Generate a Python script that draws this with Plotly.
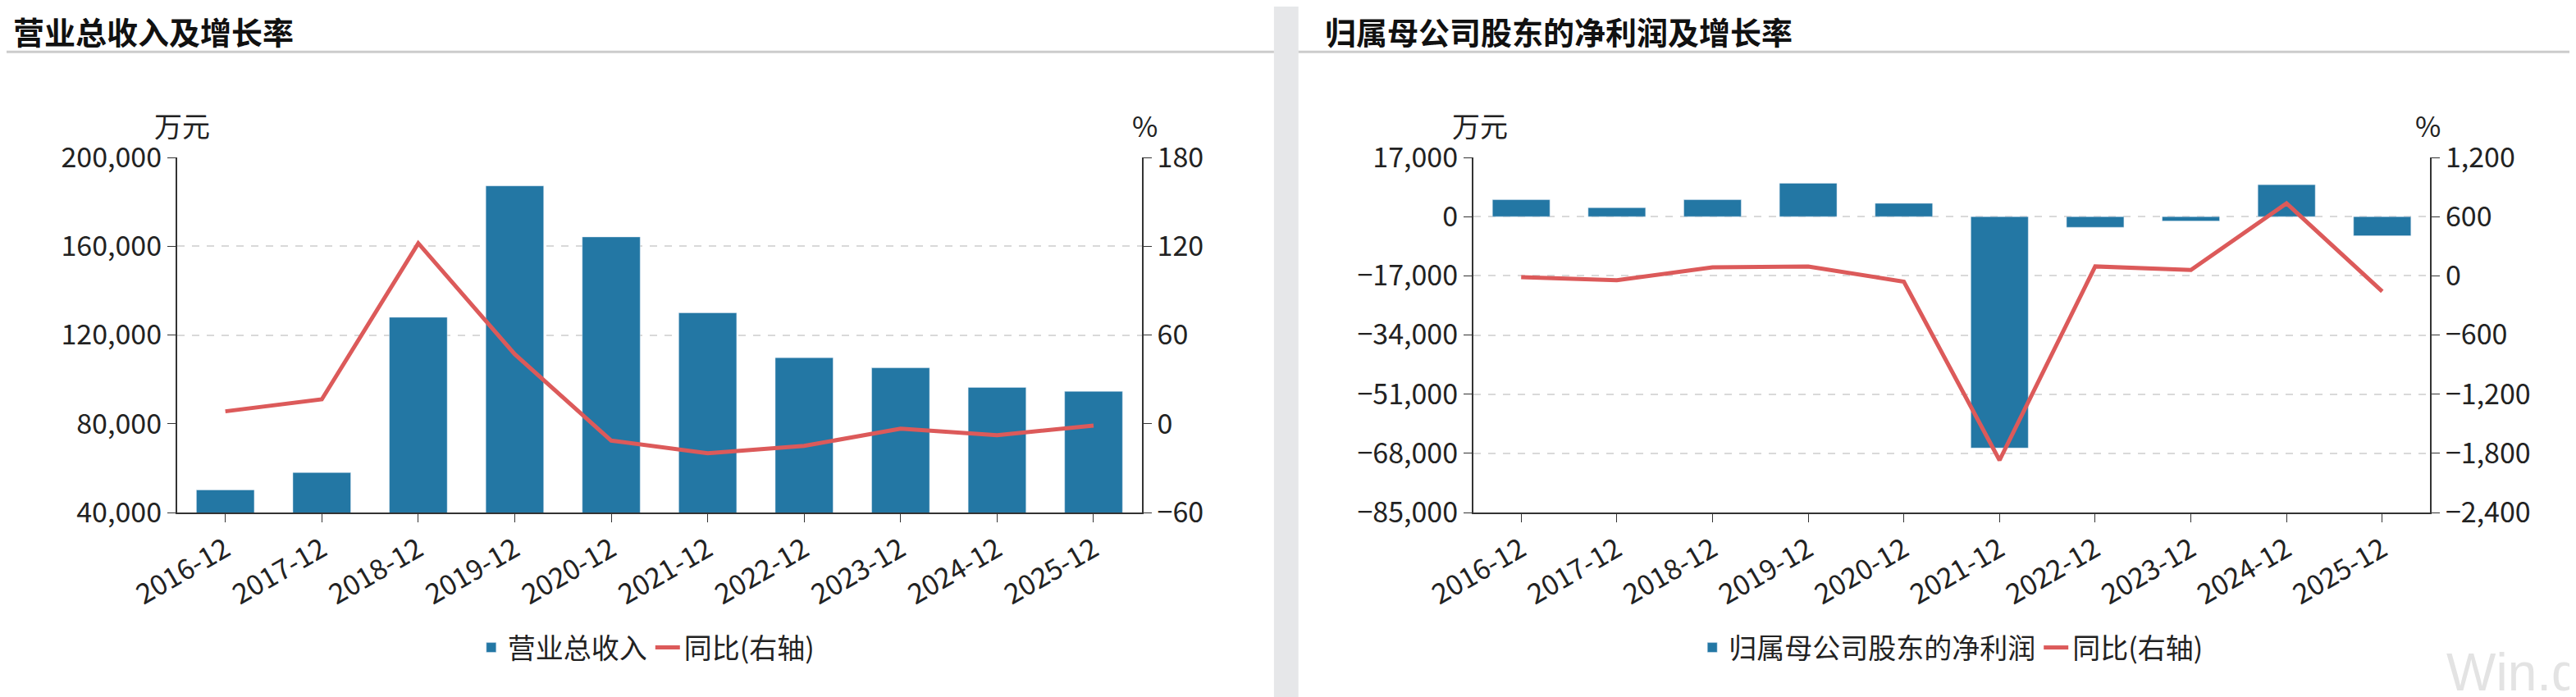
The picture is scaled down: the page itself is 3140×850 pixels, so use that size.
import plotly.graph_objects as go

years = ["2016-12","2017-12","2018-12","2019-12","2020-12","2021-12","2022-12","2023-12","2024-12","2025-12"]
revenue = [50200, 58000, 128000, 187200, 164200, 130000, 109800, 105200, 96400, 94600]
revenue_yoy = [8.4, 16.5, 122, 47, -11.4, -20, -15, -3.3, -7.8, -1.2]
profit = [4860, 2560, 4860, 9590, 3830, -66470, -3070, -1280, 9200, -5500]
profit_yoy = [-14, -45, 86, 95, -59, -1870, 95, 59, 735, -158]

BAR = "#2377a4"
LINE = "#dc5a5a"
FONT = "Noto Sans CJK SC"
TICK = dict(size=34, color="#222")

fig = go.Figure()
fig.add_bar(x=years, y=revenue, name="营业总收入", marker_color=BAR, xaxis="x", yaxis="y", legend="legend")
fig.add_scatter(x=years, y=revenue_yoy, name="同比(右轴)", mode="lines", line=dict(color=LINE, width=5), xaxis="x", yaxis="y2", legend="legend")
fig.add_bar(x=years, y=profit, name="归属母公司股东的净利润", marker_color=BAR, xaxis="x2", yaxis="y3", legend="legend2")
fig.add_scatter(x=years, y=profit_yoy, name="同比(右轴)", mode="lines", line=dict(color=LINE, width=5), xaxis="x2", yaxis="y4", legend="legend2")

ydom = [0.2741, 0.7835]
axline = dict(showline=True, linecolor="#333", linewidth=2, ticks="outside", ticklen=10, tickcolor="#333",
              tickfont=TICK, automargin=False)
xcommon = dict(type="category", tickangle=-30, **axline)
fig.update_layout(
    width=3140, height=850, margin=dict(l=0, r=0, t=0, b=0, autoexpand=False),
    paper_bgcolor="white", plot_bgcolor="white", bargap=0.4,
    font=dict(family=FONT),
    xaxis=dict(domain=[0.0662, 0.4407], anchor="y", **xcommon),
    yaxis=dict(domain=ydom, range=[40000, 200000], tickvals=[40000, 80000, 120000, 160000, 200000],
               tickformat=",", showgrid=True, gridcolor="#d9d9d9", griddash="dash", gridwidth=2, **axline),
    yaxis2=dict(overlaying="y", side="right", anchor="x", range=[-60, 180], tickvals=[-60, 0, 60, 120, 180],
                showgrid=False, **axline),
    xaxis2=dict(domain=[0.5694, 0.9408], anchor="y3", **xcommon),
    yaxis3=dict(domain=ydom, anchor="x2", range=[-85000, 17000], tickvals=[-85000, -68000, -51000, -34000, -17000, 0, 17000],
                tickformat=",", showgrid=True, gridcolor="#d9d9d9", griddash="dash", gridwidth=2, zeroline=False, **axline),
    yaxis4=dict(overlaying="y3", side="right", anchor="x2", range=[-2400, 1200], tickvals=[-2400, -1800, -1200, -600, 0, 600, 1200],
                tickformat=",", showgrid=False, zeroline=False, **axline),
    legend=dict(orientation="h", x=0.2485, xanchor="center", y=0.08, yanchor="middle", font=dict(size=34, color="#222")),
    legend2=dict(orientation="h", x=0.755, xanchor="center", y=0.08, yanchor="middle", font=dict(size=34, color="#222")),
    shapes=[
        dict(type="rect", xref="paper", yref="paper", x0=0.492, x1=0.5015, y0=0, y1=1, fillcolor="#e6e7e9", line_width=0),
        dict(type="line", xref="paper", yref="paper", x0=0, x1=0.492, y0=0.935, y1=0.935, line=dict(color="#ccc", width=3)),
        dict(type="line", xref="paper", yref="paper", x0=0.5015, x1=1, y0=0.935, y1=0.935, line=dict(color="#ccc", width=3)),
    ],
    annotations=[
        dict(text="<b>营业总收入及增长率</b>", xref="paper", yref="paper", x=0.002, y=1.0, xanchor="left", yanchor="top",
             showarrow=False, font=dict(size=38, color="#111")),
        dict(text="<b>归属母公司股东的净利润及增长率</b>", xref="paper", yref="paper", x=0.511, y=1.0, xanchor="left", yanchor="top",
             showarrow=False, font=dict(size=38, color="#111")),
        dict(text="万元", xref="paper", yref="paper", x=0.068, y=0.83, xanchor="center", yanchor="middle", showarrow=False, font=dict(size=34, color="#222")),
        dict(text="%", xref="paper", yref="paper", x=0.442, y=0.83, xanchor="center", yanchor="middle", showarrow=False, font=dict(size=34, color="#222")),
        dict(text="万元", xref="paper", yref="paper", x=0.572, y=0.83, xanchor="center", yanchor="middle", showarrow=False, font=dict(size=34, color="#222")),
        dict(text="%", xref="paper", yref="paper", x=0.940, y=0.83, xanchor="center", yanchor="middle", showarrow=False, font=dict(size=34, color="#222")),
        dict(text="Win.d", xref="paper", yref="paper", x=1.0, y=0.0, xanchor="right", yanchor="bottom", showarrow=False,
             font=dict(size=64, color="#e3e3e3", family="Liberation Sans")),
    ],
)
fig.write_html("out.html")
